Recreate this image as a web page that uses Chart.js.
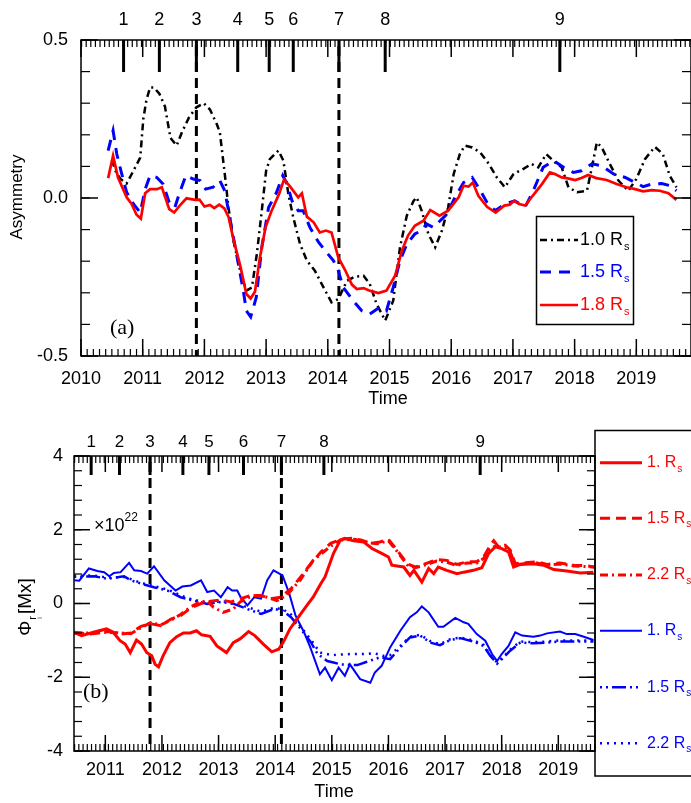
<!DOCTYPE html>
<html lang="en">
<head>
<meta charset="UTF-8">
<title>Asymmetry and polar flux</title>
<script src="https://cdn.jsdelivr.net/npm/chart.js"></script>
<style>
  body { margin: 0; background: #fff; }
  canvas { position: absolute; left: 0; }
  #asymChart { top: 0; }
  #fluxChart { top: 410px; }
</style>
</head>
<body>
<canvas id="asymChart" width="691" height="410"></canvas>
<canvas id="fluxChart" width="691" height="393"></canvas>
<script>
// ---- data: (a) asymmetry at three source-surface heights ----
const asym10 = [[2010.50,0.12],[2010.56,0.085],[2010.64,0.06],[2010.74,0.046],[2010.85,0.086],[2010.96,0.128],[2011.01,0.25],[2011.06,0.31],[2011.12,0.35],[2011.18,0.35],[2011.27,0.33],[2011.36,0.29],[2011.45,0.19],[2011.55,0.166],[2011.64,0.21],[2011.75,0.255],[2011.87,0.287],[2011.99,0.30],[2012.09,0.28],[2012.20,0.234],[2012.25,0.208],[2012.33,0.076],[2012.39,-0.03],[2012.47,-0.135],[2012.58,-0.23],[2012.68,-0.293],[2012.77,-0.283],[2012.85,-0.177],[2012.93,-0.04],[2013.00,0.086],[2013.06,0.123],[2013.20,0.15],[2013.28,0.118],[2013.36,0.013],[2013.44,-0.061],[2013.55,-0.146],[2013.66,-0.198],[2013.79,-0.23],[2013.93,-0.283],[2014.06,-0.33],[2014.17,-0.32],[2014.31,-0.262],[2014.44,-0.249],[2014.58,-0.246],[2014.68,-0.272],[2014.79,-0.335],[2014.93,-0.388],[2015.06,-0.325],[2015.17,-0.156],[2015.28,-0.056],[2015.39,-0.009],[2015.44,0.002],[2015.52,-0.04],[2015.63,-0.114],[2015.74,-0.156],[2015.85,-0.103],[2015.95,-0.03],[2016.04,0.076],[2016.14,0.139],[2016.22,0.166],[2016.34,0.16],[2016.47,0.144],[2016.61,0.108],[2016.74,0.065],[2016.87,0.034],[2017.01,0.076],[2017.17,0.092],[2017.30,0.108],[2017.41,0.097],[2017.54,0.139],[2017.68,0.113],[2017.79,0.097],[2017.90,0.034],[2018.04,0.018],[2018.20,0.023],[2018.28,0.097],[2018.36,0.176],[2018.44,0.16],[2018.57,0.108],[2018.71,0.055],[2018.87,0.023],[2019.00,0.06],[2019.14,0.123],[2019.30,0.162],[2019.43,0.139],[2019.54,0.071],[2019.65,0.034]];
const asym15 = [[2010.44,0.15],[2010.52,0.213],[2010.58,0.139],[2010.66,0.076],[2010.74,0.018],[2010.85,-0.019],[2010.96,-0.046],[2011.04,0.028],[2011.12,0.071],[2011.23,0.065],[2011.33,0.044],[2011.43,-0.014],[2011.52,-0.03],[2011.60,0.018],[2011.70,0.071],[2011.82,0.06],[2011.93,0.055],[2012.02,0.028],[2012.14,0.034],[2012.25,0.055],[2012.33,0.023],[2012.41,-0.061],[2012.52,-0.177],[2012.63,-0.293],[2012.68,-0.357],[2012.75,-0.376],[2012.84,-0.315],[2012.93,-0.156],[2013.04,-0.03],[2013.17,0.018],[2013.27,0.071],[2013.34,0.044],[2013.42,-0.009],[2013.52,-0.04],[2013.60,-0.04],[2013.71,-0.093],[2013.85,-0.14],[2013.98,-0.172],[2014.09,-0.198],[2014.17,-0.23],[2014.25,-0.283],[2014.41,-0.325],[2014.55,-0.357],[2014.68,-0.367],[2014.84,-0.346],[2014.95,-0.357],[2015.06,-0.283],[2015.17,-0.198],[2015.28,-0.146],[2015.41,-0.114],[2015.52,-0.103],[2015.60,-0.082],[2015.71,-0.093],[2015.82,-0.072],[2015.93,-0.051],[2016.06,0.002],[2016.20,0.049],[2016.34,0.065],[2016.44,0.034],[2016.58,-0.014],[2016.71,-0.04],[2016.87,-0.019],[2017.03,-0.009],[2017.20,-0.028],[2017.33,0.023],[2017.49,0.097],[2017.66,0.118],[2017.82,0.097],[2017.98,0.081],[2018.11,0.086],[2018.28,0.108],[2018.44,0.102],[2018.63,0.076],[2018.82,0.065],[2018.98,0.049],[2019.11,0.036],[2019.25,0.044],[2019.41,0.046],[2019.55,0.039],[2019.65,0.023]];
const asym18 = [[2010.44,0.063],[2010.52,0.134],[2010.60,0.065],[2010.74,0.002],[2010.82,-0.019],[2010.90,-0.053],[2010.97,-0.065],[2011.04,0.015],[2011.12,0.028],[2011.23,0.028],[2011.31,0.034],[2011.43,-0.035],[2011.51,-0.046],[2011.60,-0.024],[2011.71,-0.001],[2011.85,-0.006],[2011.92,-0.005],[2012.00,-0.027],[2012.09,-0.022],[2012.16,-0.032],[2012.24,-0.021],[2012.32,-0.032],[2012.39,-0.059],[2012.47,-0.13],[2012.58,-0.214],[2012.68,-0.304],[2012.75,-0.318],[2012.82,-0.296],[2012.90,-0.188],[2012.99,-0.093],[2013.09,-0.04],[2013.21,0.013],[2013.29,0.058],[2013.39,0.036],[2013.52,0.002],[2013.58,0.015],[2013.66,-0.059],[2013.77,-0.077],[2013.87,-0.109],[2013.97,-0.103],[2014.06,-0.109],[2014.17,-0.188],[2014.28,-0.228],[2014.39,-0.274],[2014.47,-0.288],[2014.58,-0.285],[2014.67,-0.293],[2014.82,-0.301],[2014.95,-0.293],[2015.09,-0.246],[2015.20,-0.167],[2015.30,-0.119],[2015.41,-0.088],[2015.55,-0.072],[2015.66,-0.038],[2015.81,-0.056],[2015.95,-0.04],[2016.12,0.002],[2016.20,0.039],[2016.28,0.036],[2016.35,0.049],[2016.44,0.007],[2016.58,-0.028],[2016.72,-0.046],[2016.86,-0.024],[2016.95,-0.021],[2017.02,-0.009],[2017.10,-0.019],[2017.20,-0.024],[2017.32,0.007],[2017.47,0.044],[2017.60,0.081],[2017.68,0.076],[2017.79,0.065],[2017.87,0.063],[2018.01,0.057],[2018.11,0.063],[2018.22,0.073],[2018.35,0.063],[2018.52,0.057],[2018.68,0.044],[2018.84,0.034],[2018.98,0.028],[2019.11,0.021],[2019.25,0.025],[2019.38,0.023],[2019.52,0.015],[2019.65,-0.006]];

// ---- data: (b) northern (red) and southern (blue) flux, units of 1e22 Mx ----
const fluxN10 = [[2010.44,-0.78],[2010.58,-0.87],[2010.79,-0.78],[2011.02,-0.69],[2011.14,-0.78],[2011.26,-1.01],[2011.35,-1.10],[2011.44,-1.33],[2011.55,-0.99],[2011.64,-1.10],[2011.73,-1.33],[2011.82,-1.42],[2011.88,-1.65],[2011.94,-1.72],[2012.02,-1.42],[2012.14,-1.06],[2012.26,-0.90],[2012.38,-0.80],[2012.50,-0.80],[2012.61,-0.74],[2012.70,-0.85],[2012.85,-0.89],[2012.97,-1.15],[2013.14,-1.33],[2013.26,-1.06],[2013.38,-0.96],[2013.53,-0.76],[2013.64,-0.87],[2013.79,-1.10],[2013.94,-1.31],[2014.06,-1.24],[2014.14,-1.06],[2014.26,-0.69],[2014.41,-0.37],[2014.56,-0.05],[2014.67,0.17],[2014.81,0.55],[2014.88,0.72],[2015.03,1.36],[2015.15,1.72],[2015.23,1.77],[2015.38,1.70],[2015.56,1.67],[2015.71,1.49],[2015.88,1.36],[2016.00,1.26],[2016.06,1.04],[2016.18,1.01],[2016.27,0.99],[2016.38,0.76],[2016.45,0.90],[2016.59,0.58],[2016.71,0.95],[2016.80,0.81],[2016.88,0.99],[2017.03,0.90],[2017.21,0.81],[2017.33,0.85],[2017.50,0.90],[2017.65,0.97],[2017.77,1.36],[2017.89,1.54],[2018.00,1.49],[2018.12,1.40],[2018.21,0.99],[2018.33,1.06],[2018.56,1.08],[2018.74,1.04],[2018.92,0.92],[2019.15,0.88],[2019.39,0.83],[2019.62,0.85]];
const fluxN15 = [[2010.45,-0.78],[2010.74,-0.83],[2011.04,-0.76],[2011.27,-0.83],[2011.45,-0.80],[2011.63,-0.62],[2011.80,-0.55],[2011.98,-0.60],[2012.16,-0.42],[2012.33,-0.33],[2012.51,-0.12],[2012.69,0.00],[2012.86,0.06],[2013.04,0.10],[2013.22,0.04],[2013.39,0.13],[2013.57,0.22],[2013.75,0.22],[2013.92,0.13],[2014.10,0.17],[2014.28,0.40],[2014.45,0.72],[2014.63,1.08],[2014.81,1.40],[2014.98,1.63],[2015.16,1.74],[2015.34,1.77],[2015.51,1.72],[2015.69,1.63],[2015.85,1.67],[2016.00,1.74],[2016.15,1.45],[2016.33,1.08],[2016.47,0.99],[2016.62,1.06],[2016.85,1.19],[2017.03,1.17],[2017.21,1.06],[2017.39,1.13],[2017.56,1.13],[2017.68,1.26],[2017.80,1.58],[2017.86,1.70],[2017.94,1.54],[2018.06,1.58],[2018.15,1.45],[2018.24,1.08],[2018.39,1.10],[2018.62,1.13],[2018.80,1.06],[2019.03,1.10],[2019.27,1.04],[2019.51,1.02],[2019.65,0.99]];
const fluxN22 = [[2010.45,-0.80],[2010.74,-0.80],[2011.04,-0.78],[2011.27,-0.80],[2011.45,-0.82],[2011.63,-0.66],[2011.80,-0.52],[2011.98,-0.58],[2012.15,-0.46],[2012.33,-0.30],[2012.50,-0.10],[2012.65,0.02],[2012.79,0.08],[2012.91,-0.10],[2013.08,-0.24],[2013.26,-0.15],[2013.38,0.04],[2013.61,0.22],[2013.85,0.17],[2014.03,0.08],[2014.20,0.22],[2014.44,0.63],[2014.67,1.17],[2014.97,1.54],[2015.15,1.72],[2015.40,1.74],[2015.60,1.66],[2015.80,1.62],[2016.00,1.70],[2016.15,1.42],[2016.33,1.05],[2016.47,0.97],[2016.62,1.03],[2016.85,1.15],[2017.03,1.12],[2017.21,1.03],[2017.39,1.10],[2017.56,1.10],[2017.68,1.22],[2017.80,1.50],[2017.90,1.56],[2018.00,1.52],[2018.10,1.50],[2018.15,1.40],[2018.24,1.05],[2018.39,1.08],[2018.62,1.10],[2018.80,1.04],[2019.03,1.07],[2019.27,1.02],[2019.51,1.00],[2019.65,0.98]];
const fluxS10 = [[2010.45,0.63],[2010.54,0.62],[2010.71,0.95],[2010.86,0.88],[2010.98,0.85],[2011.07,0.74],[2011.15,0.83],[2011.27,0.85],[2011.42,1.10],[2011.51,0.90],[2011.63,0.88],[2011.74,0.81],[2011.86,1.01],[2012.04,0.63],[2012.24,0.35],[2012.36,0.46],[2012.51,0.49],[2012.69,0.63],[2012.80,0.31],[2012.92,0.35],[2013.04,0.17],[2013.16,0.44],[2013.24,0.35],[2013.33,0.35],[2013.39,0.17],[2013.51,-0.05],[2013.63,0.17],[2013.75,0.13],[2013.86,0.63],[2013.97,0.90],[2014.13,0.76],[2014.25,0.26],[2014.36,-0.33],[2014.51,-0.78],[2014.62,-1.19],[2014.79,-1.92],[2014.88,-1.74],[2015.00,-2.08],[2015.12,-1.74],[2015.23,-1.96],[2015.32,-1.65],[2015.50,-2.05],[2015.68,-2.15],[2015.76,-1.87],[2015.88,-1.69],[2016.03,-1.19],[2016.21,-0.74],[2016.38,-0.37],[2016.50,-0.24],[2016.59,-0.08],[2016.71,-0.24],[2016.88,-0.63],[2016.97,-0.63],[2017.18,-0.39],[2017.33,-0.51],[2017.41,-0.55],[2017.56,-0.83],[2017.71,-1.01],[2017.83,-1.37],[2017.92,-1.56],[2018.00,-1.37],[2018.12,-1.15],[2018.24,-0.78],[2018.36,-0.87],[2018.56,-0.90],[2018.68,-0.87],[2018.80,-0.81],[2019.03,-0.76],[2019.15,-0.83],[2019.30,-0.83],[2019.45,-0.90],[2019.62,-0.99]];
const fluxS15 = [[2010.45,0.72],[2010.80,0.74],[2011.04,0.67],[2011.33,0.74],[2011.45,0.63],[2011.63,0.54],[2011.86,0.44],[2012.10,0.35],[2012.33,0.17],[2012.51,0.10],[2012.80,-0.01],[2013.04,0.04],[2013.27,-0.01],[2013.51,-0.15],[2013.75,-0.28],[2013.98,-0.15],[2014.13,-0.19],[2014.28,-0.37],[2014.45,-0.69],[2014.63,-1.05],[2014.75,-1.37],[2014.92,-1.56],[2015.03,-1.60],[2015.16,-1.65],[2015.45,-1.67],[2015.62,-1.58],[2015.85,-1.46],[2016.03,-1.51],[2016.21,-1.19],[2016.38,-0.92],[2016.56,-0.87],[2016.74,-1.06],[2016.91,-1.13],[2017.09,-0.99],[2017.27,-0.94],[2017.50,-1.03],[2017.68,-1.15],[2017.80,-1.42],[2017.92,-1.63],[2018.03,-1.47],[2018.15,-1.28],[2018.33,-1.06],[2018.56,-1.08],[2018.80,-1.06],[2019.03,-1.03],[2019.33,-1.03],[2019.62,-1.03]];
const fluxS22 = [[2010.45,0.75],[2010.80,0.76],[2011.04,0.70],[2011.33,0.72],[2011.45,0.66],[2011.63,0.56],[2011.86,0.47],[2012.10,0.38],[2012.33,0.22],[2012.51,0.12],[2012.80,0.02],[2013.04,0.06],[2013.27,0.02],[2013.51,-0.10],[2013.75,-0.22],[2013.98,-0.12],[2014.13,-0.15],[2014.28,-0.30],[2014.45,-0.62],[2014.63,-0.98],[2014.79,-1.33],[2015.00,-1.40],[2015.32,-1.37],[2015.60,-1.37],[2015.76,-1.35],[2015.90,-1.42],[2016.03,-1.40],[2016.21,-1.15],[2016.38,-0.90],[2016.56,-0.85],[2016.74,-1.02],[2016.91,-1.10],[2017.09,-0.97],[2017.27,-0.92],[2017.50,-1.00],[2017.68,-1.12],[2017.80,-1.40],[2017.92,-1.60],[2018.03,-1.45],[2018.15,-1.25],[2018.33,-1.03],[2018.56,-1.05],[2018.80,-1.03],[2019.03,-1.00],[2019.33,-1.00],[2019.62,-1.00]];

// event markers along the top axes (numbered 1..9)
const eventLabels = ['1', '2', '3', '4', '5', '6', '7', '8', '9'];
const eventsA = [2010.69, 2011.27, 2011.87, 2012.54, 2013.05, 2013.44, 2014.18, 2014.93, 2017.76];
const eventsB = [2010.75, 2011.25, 2011.79, 2012.37, 2012.83, 2013.44, 2014.11, 2014.86, 2017.62];

const yearsA = [2010, 2011, 2012, 2013, 2014, 2015, 2016, 2017, 2018, 2019];
const yearsB = [2011, 2012, 2013, 2014, 2015, 2016, 2017, 2018, 2019];
const asymTicks = [-0.5, 0.0, 0.5];
const asymTickLabels = ['-0.5', '0.0', '0.5'];
const fluxTicks = [-4, -2, 0, 2, 4];
const fluxTickLabels = ['-4', '-2', '0', '2', '4'];
const radiiA = ['1.0', '1.5', '1.8'];
const radiiB = ['1.', '1.5', '2.2'];

const SANS = '"Liberation Sans", Arial, sans-serif';
const SERIF = '"Liberation Serif", "Times New Roman", serif';
const RED = '#ff0000', BLUE = '#0000ff', BLACK = '#000000';
const CR_YEAR = 27.2753 / 365.25;   // one Carrington rotation in years
const CR_EPOCH = 2010.383;

const pts = arr => arr.map(([x, y]) => ({ x, y }));

function steps(min, max, step, origin = 0) {
  const out = [];
  for (let i = Math.ceil((min - origin) / step - 1e-6); origin + i * step <= max + 1e-6; i++) out.push(origin + i * step);
  return out;
}

function seg(ctx, x1, y1, x2, y2, w) {
  ctx.lineWidth = w;
  ctx.beginPath();
  ctx.moveTo(x1, y1);
  ctx.lineTo(x2, y2);
  ctx.stroke();
}

// "1.5 R" with a subscript s
function rLabel(ctx, txt, x, y, size, color) {
  ctx.fillStyle = color;
  ctx.textAlign = 'left';
  ctx.textBaseline = 'middle';
  ctx.font = size + 'px ' + SANS;
  const main = txt + ' R';
  ctx.fillText(main, x, y);
  const w = ctx.measureText(main).width;
  ctx.font = Math.round(size * 0.6) + 'px ' + SANS;
  ctx.fillText('s', x + w + 1, y + size * 0.38);
}

function legendLine(ctx, x1, x2, y, color, dash, w) {
  ctx.save();
  ctx.strokeStyle = color;
  ctx.setLineDash(dash);
  seg(ctx, x1, y, x2, y, w);
  ctx.restore();
}

// frame, inward ticks, event marks and tick labels for one panel
function panelAxes(p) {
  return {
    id: 'panelAxes',
    beforeDatasetsDraw(chart) {
      const { ctx, chartArea: a, scales: { x } } = chart;
      ctx.save();
      ctx.strokeStyle = BLACK;
      ctx.setLineDash([10, 6]);
      p.dashed.forEach(i => {
        const px = x.getPixelForValue(p.events[i]);
        seg(ctx, px, a.top + 6, px, a.bottom, 3);
      });
      ctx.restore();
    },
    afterDatasetsDraw(chart) {
      const { ctx, chartArea: a, scales: { x, y } } = chart;
      ctx.save();
      ctx.strokeStyle = BLACK;
      ctx.fillStyle = BLACK;
      ctx.lineWidth = 1.5;
      ctx.strokeRect(a.left, a.top, a.right - a.left, a.bottom - a.top);

      // bottom axis
      steps(x.min, x.max, p.bottomStep, p.bottomOrigin).forEach(t => {
        const px = x.getPixelForValue(t);
        seg(ctx, px, a.bottom, px, a.bottom - 7, 1.2);
      });
      // top axis: Carrington rotations
      steps(x.min, x.max, CR_YEAR, CR_EPOCH).forEach(t => {
        const px = x.getPixelForValue(t);
        seg(ctx, px, a.top, px, a.top + 7, 1.2);
      });
      p.years.forEach(t => {
        const px = x.getPixelForValue(t);
        seg(ctx, px, a.bottom, px, a.bottom - p.yearLen, 1.5);
        seg(ctx, px, a.top, px, a.top + p.yearLen, 1.5);
      });
      p.events.forEach(t => {
        const px = x.getPixelForValue(t);
        seg(ctx, px, a.top, px, a.top + p.eventLen, 3);
      });

      // y ticks on both sides
      steps(y.min, y.max, p.yMinor).forEach(v => {
        const py = y.getPixelForValue(v);
        seg(ctx, a.left, py, a.left + p.yMinorLen, py, 1.2);
        seg(ctx, a.right, py, a.right - p.yMinorLen, py, 1.2);
      });
      p.yTicks.forEach(v => {
        const py = y.getPixelForValue(v);
        seg(ctx, a.left, py, a.left + p.yMajorLen, py, 1.5);
        seg(ctx, a.right, py, a.right - p.yMajorLen, py, 1.5);
      });

      // labels
      ctx.font = p.tickFont + 'px ' + SANS;
      ctx.textBaseline = 'middle';
      ctx.textAlign = 'right';
      p.yTicks.forEach((v, i) => ctx.fillText(p.yTickLabels[i], a.left - p.yLabelGap, y.getPixelForValue(v)));
      ctx.textAlign = 'center';
      p.yearLabels.forEach(t => ctx.fillText(String(t), x.getPixelForValue(t), a.bottom + p.yearGap));
      ctx.font = p.eventFont + 'px ' + SANS;
      p.events.forEach((t, i) => ctx.fillText(eventLabels[i], x.getPixelForValue(t), a.top - p.eventGap));
      ctx.font = '18px ' + SANS;
      ctx.fillText('Time', p.timeX, p.timeY);
      p.extra(ctx, a);
      ctx.restore();
    }
  };
}

function lineSet(label, data, color, dash, width) {
  return {
    label, data: pts(data), borderColor: color, borderDash: dash, borderWidth: width,
    pointRadius: 0, tension: 0, fill: false
  };
}

function baseOptions(xr, yr, pad) {
  return {
    responsive: false,
    animation: false,
    layout: { padding: pad },
    plugins: { legend: { display: false }, tooltip: { enabled: false } },
    scales: {
      x: { type: 'linear', min: xr[0], max: xr[1], display: false },
      y: { type: 'linear', min: yr[0], max: yr[1], display: false }
    }
  };
}

// ---- panel (a) ----
new Chart(document.getElementById('asymChart'), {
  type: 'line',
  data: {
    datasets: [
      lineSet('1.8 Rs', asym18, RED, [], 2.7),
      lineSet('1.5 Rs', asym15, BLUE, [11, 8], 3),
      lineSet('1.0 Rs', asym10, BLACK, [7, 4, 2, 4], 2.5)
    ]
  },
  options: baseOptions([2010, 2019.886], [-0.5, 0.5], { left: 81, right: 0, top: 40, bottom: 54 }),
  plugins: [panelAxes({
    events: eventsA, dashed: [2, 6], years: yearsA, yearLabels: yearsA,
    bottomStep: 0.1, bottomOrigin: 0, yearLen: 17, eventLen: 32,
    yMinor: 0.1, yTicks: asymTicks, yTickLabels: asymTickLabels, yMinorLen: 9, yMajorLen: 17,
    tickFont: 18, eventFont: 18, yLabelGap: 13, yearGap: 23, eventGap: 20,
    timeX: 388, timeY: 399,
    extra(ctx, a) {
      ctx.save();
      ctx.translate(17, 197);
      ctx.rotate(-Math.PI / 2);
      ctx.font = '17px ' + SANS;
      ctx.textAlign = 'center';
      ctx.fillText('Asymmetry', 0, 0);
      ctx.restore();

      ctx.font = '22px ' + SERIF;
      ctx.textAlign = 'left';
      ctx.fillText('(a)', 110, 328);

      // legend
      ctx.lineWidth = 1.5;
      ctx.strokeRect(536.5, 216.5, 97, 108);
      const rows = [240, 272, 305];
      const cols = [BLACK, BLUE, RED];
      const dashes = [[7, 4, 2, 4], [11, 8], []];
      rows.forEach((ry, i) => {
        legendLine(ctx, 540, 578, ry, cols[i], dashes[i], i === 1 ? 3 : 2.5);
        rLabel(ctx, radiiA[i], 580, ry, 18, cols[i]);
      });
    }
  })]
});

// ---- panel (b) ----
new Chart(document.getElementById('fluxChart'), {
  type: 'line',
  data: {
    datasets: [
      lineSet('1. Rs N', fluxN10, RED, [], 3),
      lineSet('1.5 Rs N', fluxN15, RED, [10, 6], 3),
      lineSet('2.2 Rs N', fluxN22, RED, [8, 4, 2, 4], 3),
      lineSet('1. Rs S', fluxS10, BLUE, [], 2),
      lineSet('1.5 Rs S', fluxS15, BLUE, [2, 4, 2, 4, 14, 4], 2.5),
      lineSet('2.2 Rs S', fluxS22, BLUE, [2, 5], 2.5)
    ]
  },
  options: baseOptions([2010.447, 2019.648], [-4, 4], { left: 74, right: 96, top: 46, bottom: 52 }),
  plugins: [panelAxes({
    events: eventsB, dashed: [2, 6], years: yearsB, yearLabels: yearsB,
    bottomStep: CR_YEAR, bottomOrigin: CR_EPOCH, yearLen: 16, eventLen: 19,
    yMinor: 0.4, yTicks: fluxTicks, yTickLabels: fluxTickLabels, yMinorLen: 8, yMajorLen: 16,
    tickFont: 18, eventFont: 17, yLabelGap: 11, yearGap: 19, eventGap: 14,
    timeX: 334, timeY: 382,
    extra(ctx, a) {
      // rotated axis title with nested subscript
      ctx.save();
      ctx.translate(24, 197);
      ctx.rotate(-Math.PI / 2);
      ctx.textAlign = 'left';
      ctx.textBaseline = 'alphabetic';
      ctx.font = '19px ' + SANS;
      const phi = 'Φ', unit = '[Mx]';
      const wPhi = ctx.measureText(phi).width, wUnit = ctx.measureText(unit).width;
      ctx.font = '11px ' + SANS;
      const wSub = ctx.measureText('r').width + 3;
      const x0 = -(wPhi + wSub + wUnit) / 2;
      ctx.font = '19px ' + SANS;
      ctx.fillText(phi, x0, 7);
      ctx.font = '11px ' + SANS;
      ctx.fillText('r', x0 + wPhi + 1, 12);
      ctx.font = '7px ' + SANS;
      ctx.fillText('i', x0 + wPhi + 2, 18);
      ctx.font = '19px ' + SANS;
      ctx.fillText(unit, x0 + wPhi + wSub, 7);
      ctx.restore();

      ctx.font = '22px ' + SERIF;
      ctx.textAlign = 'left';
      ctx.textBaseline = 'middle';
      ctx.fillText('(b)', 83, 282);

      ctx.font = '18px ' + SANS;
      ctx.fillText('×10', 94, 116);
      const w = ctx.measureText('×10').width;
      ctx.font = '12px ' + SANS;
      ctx.fillText('22', 94 + w, 108);

      // legend panel to the right of the plot
      ctx.lineWidth = 1.5;
      ctx.strokeRect(a.right, 20.5, 110, 345.5);
      const rows = [52.7, 108.3, 165, 220.7, 277.3, 333.3];
      const cols = [RED, RED, RED, BLUE, BLUE, BLUE];
      const dashes = [[], [10, 6], [8, 4, 2, 4], [], [2, 4, 2, 4, 14, 4], [2, 5]];
      const widths = [3, 3, 3, 2, 2.5, 2.5];
      rows.forEach((ry, i) => {
        legendLine(ctx, 600, 642, ry, cols[i], dashes[i], widths[i]);
        rLabel(ctx, radiiB[i % 3], 647, ry, 16, cols[i]);
      });
    }
  })]
});
</script>
</body>
</html>
